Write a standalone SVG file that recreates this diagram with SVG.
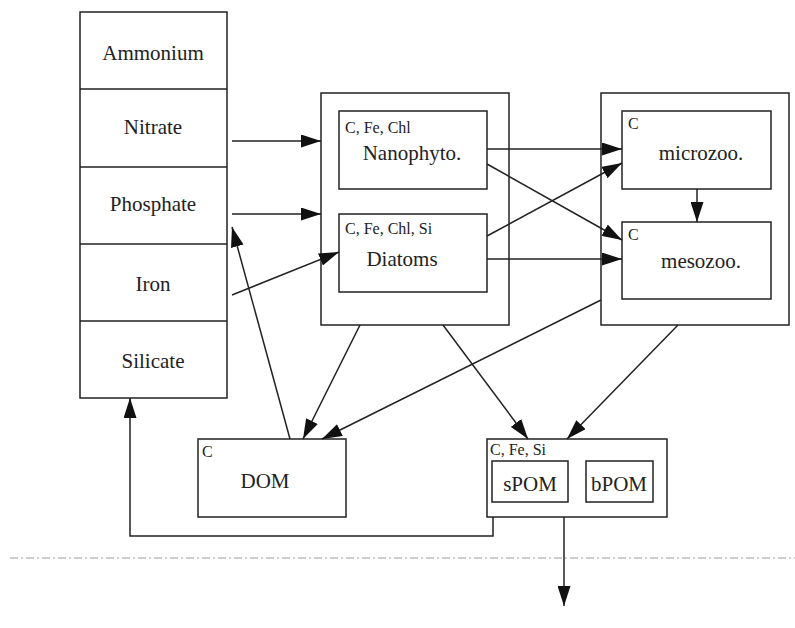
<svg xmlns="http://www.w3.org/2000/svg" width="795" height="628" viewBox="0 0 795 628">
<defs>
<style>
.box{fill:#fff;stroke:#222;stroke-width:1.5}
.t{font-family:"Liberation Serif","Times New Roman",serif;font-size:21px;fill:#222;text-anchor:middle}
.s{font-family:"Liberation Serif","Times New Roman",serif;font-size:16px;fill:#222}
.c{fill:none;stroke:#222;stroke-width:1.5}
</style>
<marker id="ah" viewBox="0 0 20 13" refX="20" refY="6.5" markerWidth="20" markerHeight="13" markerUnits="userSpaceOnUse" orient="auto">
<path d="M0,0 L20,6.5 L0,13 z" fill="#111"/>
</marker>
</defs>
<rect width="795" height="628" fill="#fff"/>
<g id="nutrients">
<rect class="box" x="80" y="12" width="147" height="386"/>
<line class="c" x1="80" y1="89" x2="227" y2="89"/>
<line class="c" x1="80" y1="167" x2="227" y2="167"/>
<line class="c" x1="80" y1="244" x2="227" y2="244"/>
<line class="c" x1="80" y1="321" x2="227" y2="321"/>
<text class="t" x="153" y="60">Ammonium</text>
<text class="t" x="153" y="134">Nitrate</text>
<text class="t" x="153" y="211">Phosphate</text>
<text class="t" x="153" y="291">Iron</text>
<text class="t" x="153" y="368">Silicate</text>
</g>
<g id="phyto">
<rect class="box" x="321" y="93" width="188" height="232"/>
<g id="nanophyto">
<rect class="box" x="339" y="111" width="148" height="78"/>
<text class="s" x="345" y="133">C, Fe, Chl</text>
<text class="t" x="412" y="160">Nanophyto.</text>
</g>
<g id="diatoms">
<rect class="box" x="339" y="214" width="148" height="78"/>
<text class="s" x="345" y="234">C, Fe, Chl, Si</text>
<text class="t" x="402" y="266">Diatoms</text>
</g>
</g>
<g id="zoo">
<rect class="box" x="601" y="93" width="188" height="232"/>
<g id="microzoo">
<rect class="box" x="622" y="111" width="149" height="78"/>
<text class="s" x="628" y="129">C</text>
<text class="t" x="701" y="160">microzoo.</text>
</g>
<g id="mesozoo">
<rect class="box" x="622" y="222" width="149" height="77"/>
<text class="s" x="628" y="240">C</text>
<text class="t" x="701" y="268">mesozoo.</text>
</g>
</g>
<g id="dom">
<rect class="box" x="198" y="439" width="148" height="78"/>
<text class="s" x="202" y="457">C</text>
<text class="t" x="265" y="488">DOM</text>
</g>
<g id="pom">
<rect class="box" x="487" y="439" width="180" height="78"/>
<text class="s" x="490" y="455">C, Fe, Si</text>
<g id="spom">
<rect class="box" x="492" y="461" width="76" height="41"/>
<text class="t" x="530" y="491">sPOM</text>
</g>
<g id="bpom">
<rect class="box" x="586" y="461" width="67" height="41"/>
<text class="t" x="619" y="491">bPOM</text>
</g>
</g>
<g id="connectors">
<line class="c" x1="232" y1="141" x2="321" y2="141" marker-end="url(#ah)"/>
<line class="c" x1="232" y1="214" x2="321" y2="214" marker-end="url(#ah)"/>
<line class="c" x1="232" y1="295" x2="339" y2="252" marker-end="url(#ah)"/>
<line class="c" x1="290" y1="439" x2="232" y2="227" marker-end="url(#ah)"/>
<line class="c" x1="487" y1="149" x2="622" y2="149" marker-end="url(#ah)"/>
<line class="c" x1="487" y1="164" x2="622" y2="240" marker-end="url(#ah)"/>
<line class="c" x1="487" y1="236" x2="622" y2="163" marker-end="url(#ah)"/>
<line class="c" x1="487" y1="259" x2="622" y2="259" marker-end="url(#ah)"/>
<line class="c" x1="697" y1="189" x2="697" y2="222" marker-end="url(#ah)"/>
<line class="c" x1="360" y1="325" x2="303" y2="439" marker-end="url(#ah)"/>
<line class="c" x1="601" y1="300" x2="322" y2="439" marker-end="url(#ah)"/>
<line class="c" x1="443" y1="325" x2="528" y2="439" marker-end="url(#ah)"/>
<line class="c" x1="678" y1="325" x2="567" y2="439" marker-end="url(#ah)"/>
<path class="c" d="M493,517 V536 H130 V398" marker-end="url(#ah)"/>
<line class="c" x1="564" y1="517" x2="564" y2="606" marker-end="url(#ah)"/>
</g>
<line x1="10" y1="558" x2="795" y2="558" stroke="#999" stroke-width="1.2" stroke-dasharray="8,3,2,3"/>
</svg>
